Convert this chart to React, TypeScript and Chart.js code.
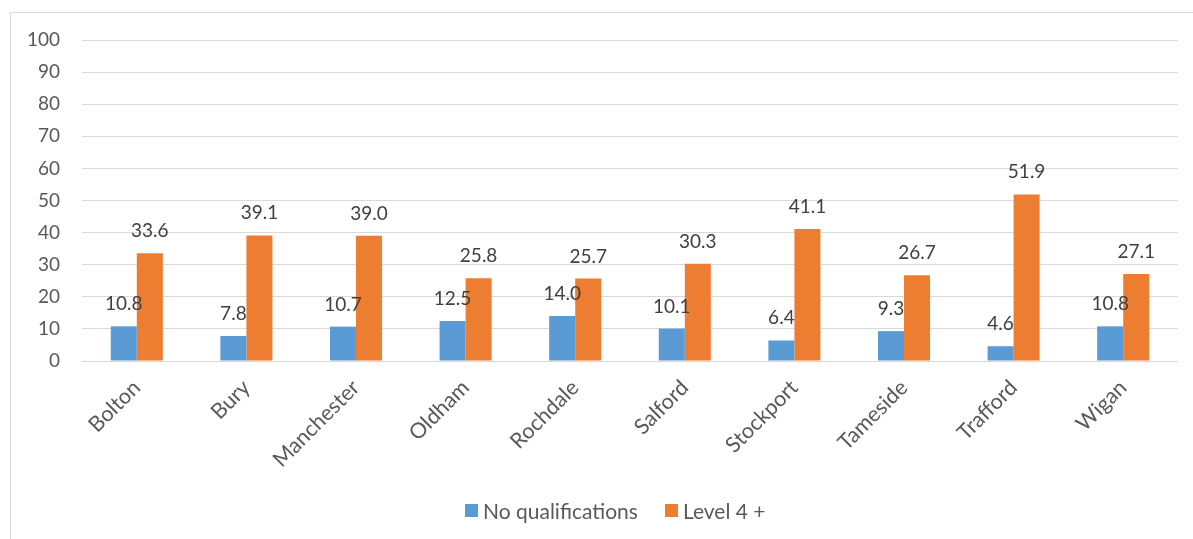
import React, { useEffect, useRef } from "react";
import { Chart, registerables } from "chart.js";

Chart.register(...registerables);

const boroughs = [
  "Bolton",
  "Bury",
  "Manchester",
  "Oldham",
  "Rochdale",
  "Salford",
  "Stockport",
  "Tameside",
  "Trafford",
  "Wigan",
];
const noQualifications = [10.8, 7.8, 10.7, 12.5, 14.0, 10.1, 6.4, 9.3, 4.6, 10.8];
const level4Plus = [33.6, 39.1, 39.0, 25.8, 25.7, 30.3, 41.1, 26.7, 51.9, 27.1];
const yTicks = [0, 10, 20, 30, 40, 50, 60, 70, 80, 90, 100];

const seriesNames = ["No qualifications", "Level 4 +"];
const seriesColors = ["#5B9BD5", "#ED7D31"];

const FONT = "Lato, 'Open Sans', sans-serif";
const TICK_COLOR = "#595959";
const GRID_COLOR = "#D9D9D9";

// Writes each bar's value just above its top edge.
const valueLabels = {
  id: "valueLabels",
  afterDatasetsDraw(chart: any) {
    const { ctx } = chart;
    ctx.save();
    ctx.font = `19px ${FONT}`;
    ctx.fillStyle = "#404040";
    ctx.textAlign = "center";
    ctx.textBaseline = "alphabetic";
    chart.data.datasets.forEach((ds: any, i: number) => {
      const meta = chart.getDatasetMeta(i);
      meta.data.forEach((bar: any, j: number) => {
        const v = ds.data[j] as number;
        ctx.fillText(v.toFixed(1), bar.x, bar.y - 16);
      });
    });
    ctx.restore();
  },
};

export default function App() {
  const canvasRef = useRef<HTMLCanvasElement | null>(null);

  useEffect(() => {
    const canvas = canvasRef.current;
    if (!canvas) return;
    const chart = new Chart(canvas, {
      type: "bar",
      data: {
        labels: boroughs,
        datasets: [
          {
            label: seriesNames[0],
            data: noQualifications,
            backgroundColor: seriesColors[0],
            categoryPercentage: 0.475,
            barPercentage: 1,
          },
          {
            label: seriesNames[1],
            data: level4Plus,
            backgroundColor: seriesColors[1],
            categoryPercentage: 0.475,
            barPercentage: 1,
          },
        ],
      },
      options: {
        responsive: false,
        animation: false,
        devicePixelRatio: 1,
        layout: { padding: { left: 0, right: 15, top: 40, bottom: 0 } },
        plugins: {
          tooltip: { enabled: false },
          legend: { display: false },
        },
        scales: {
          x: {
            grid: { display: false, drawTicks: false },
            border: { display: false },
            ticks: {
              color: TICK_COLOR,
              font: { family: FONT, size: 21.5 },
              minRotation: 45,
              maxRotation: 45,
              padding: 14,
            },
            afterFit(scale: any) {
              scale.height = 178;
            },
          },
          y: {
            min: 0,
            max: 100,
            afterBuildTicks(scale: any) {
              scale.ticks = yTicks.map((value) => ({ value }));
            },
            grid: { color: GRID_COLOR, lineWidth: 1, drawTicks: false },
            border: { display: false },
            ticks: {
              color: TICK_COLOR,
              font: { family: FONT, size: 19 },
              padding: 22,
            },
            afterFit(scale: any) {
              scale.width = 82;
            },
          },
        },
      },
      plugins: [valueLabels],
    });
    return () => chart.destroy();
  }, []);

  return (
    <div
      style={{
        position: "fixed",
        left: 0,
        top: 0,
        width: 1193,
        height: 539,
        overflow: "hidden",
        background: "#fff",
      }}
    >
      <div
        style={{
          position: "absolute",
          left: 10,
          top: 12,
          width: 1300,
          height: 700,
          border: `1px solid ${GRID_COLOR}`,
        }}
      />
      <canvas
        ref={canvasRef}
        width={1193}
        height={539}
        style={{ position: "absolute", left: 0, top: 0 }}
      />
      <div
        style={{
          position: "absolute",
          left: 465,
          top: 497,
          height: 26,
          display: "flex",
          alignItems: "center",
          fontFamily: FONT,
          fontSize: 21,
          color: TICK_COLOR,
          whiteSpace: "nowrap",
        }}
      >
        {seriesNames.map((name, i) => (
          <div
            key={name}
            style={{ display: "flex", alignItems: "center", marginRight: i === 0 ? 27 : 0 }}
          >
            <span
              style={{
                display: "inline-block",
                width: 13,
                height: 13,
                background: seriesColors[i],
                marginRight: 5,
              }}
            />
            <span>{name}</span>
          </div>
        ))}
      </div>
    </div>
  );
}
